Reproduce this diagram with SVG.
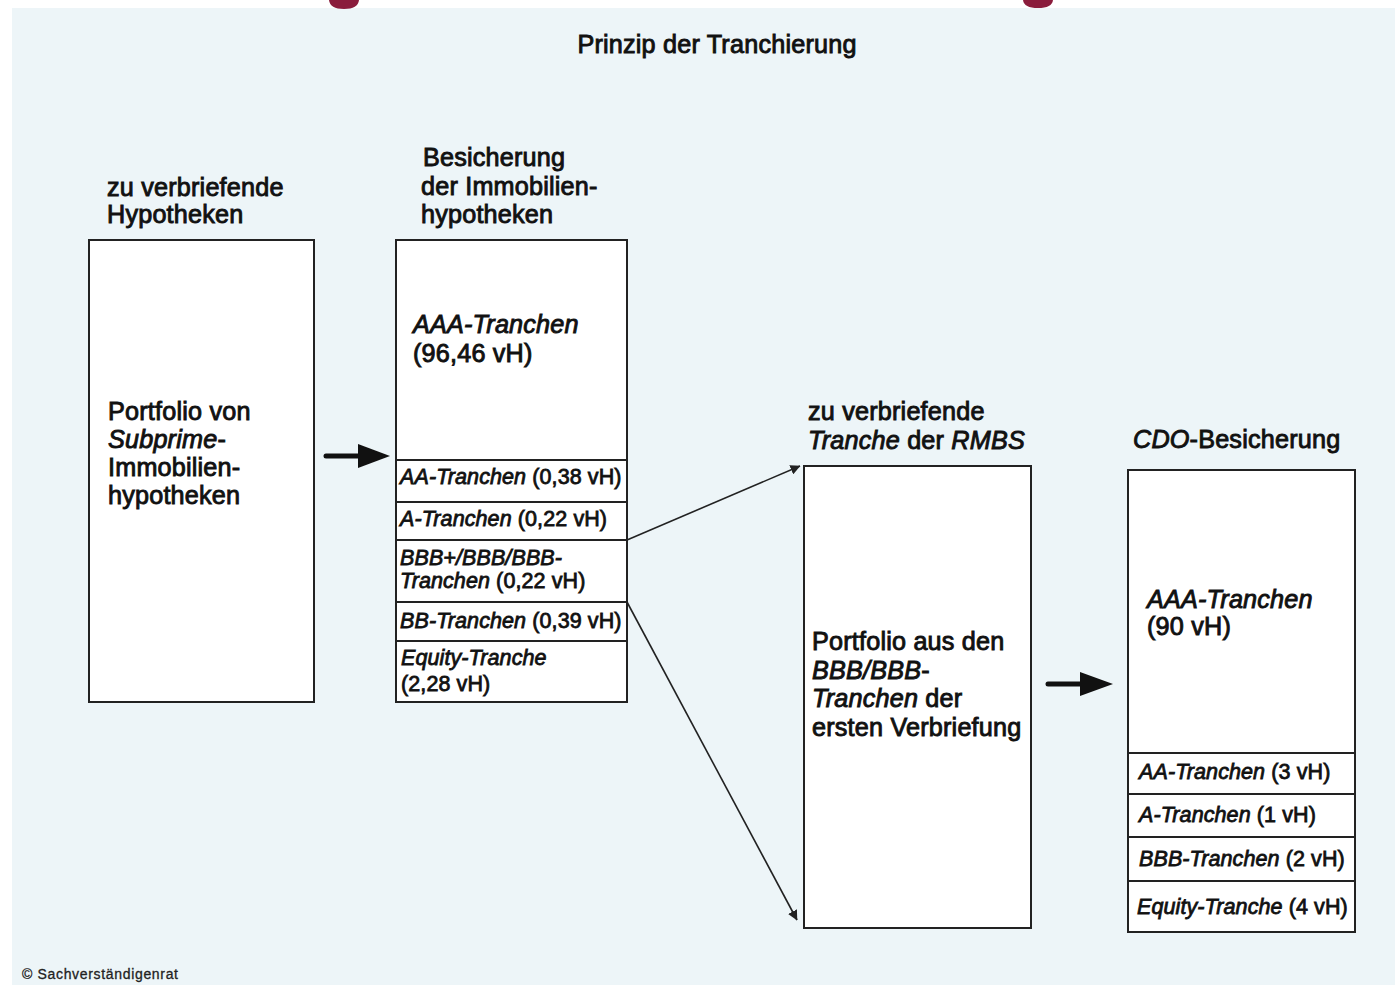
<svg xmlns="http://www.w3.org/2000/svg" width="1395" height="985" viewBox="0 0 1395 985">
<defs>
<style>
.t{font-family:"Liberation Sans",Arial,sans-serif;fill:#111;stroke:#111;stroke-width:0.9}
.h{font-size:25.2px;letter-spacing:0.2px}
.s{font-size:21.5px;stroke-width:0.8;letter-spacing:0.1px}
.i{font-style:italic}
.box{fill:#fff;stroke:#222;stroke-width:2}
.div{stroke:#222;stroke-width:2}
.con{stroke:#222;stroke-width:1.6;fill:none}
</style>
<marker id="ah2" viewBox="0 0 10 10" refX="9.5" refY="5" markerWidth="10" markerHeight="10" orient="auto" markerUnits="userSpaceOnUse">
<path d="M0,0 L10,5 L0,10 z" fill="#222"/>
</marker>
</defs>
<rect x="0" y="0" width="1395" height="985" fill="#fff"/>
<rect x="12" y="8" width="1383" height="977" fill="#EDF5F8"/>
<path d="M329,0 L359,0 Q358,9 344,9 Q330,9 329,0 z" fill="#8A1C3C"/>
<path d="M1023,0 L1053,0 Q1052,8 1038,8 Q1024,8 1023,0 z" fill="#8A1C3C"/>

<text class="t h" x="717" y="53" text-anchor="middle">Prinzip der Tranchierung</text>

<g id="node-hypotheken">
<text class="t h" x="107" y="196">zu verbriefende</text>
<text class="t h" x="107" y="223">Hypotheken</text>
<rect class="box" x="89" y="240" width="225" height="462"/>
<text class="t h" x="108" y="420">Portfolio von</text>
<text class="t h i" x="108" y="448">Subprime<tspan font-style="normal">-</tspan></text>
<text class="t h" x="108" y="476">Immobilien-</text>
<text class="t h" x="108" y="504">hypotheken</text>
</g>

<g id="node-besicherung">
<text class="t h" x="423" y="166">Besicherung</text>
<text class="t h" x="421" y="195">der Immobilien-</text>
<text class="t h" x="421" y="223">hypotheken</text>
<rect class="box" x="396" y="240" width="231" height="462"/>
<line class="div" x1="396" y1="460" x2="627" y2="460"/>
<line class="div" x1="396" y1="502" x2="627" y2="502"/>
<line class="div" x1="396" y1="540" x2="627" y2="540"/>
<line class="div" x1="396" y1="602" x2="627" y2="602"/>
<line class="div" x1="396" y1="641" x2="627" y2="641"/>
<text class="t h i" x="413" y="333">AAA-Tranchen</text>
<text class="t h" x="413" y="362">(96,46 vH)</text>
<text class="t s" x="400" y="484"><tspan font-style="italic">AA-Tranchen</tspan> (0,38 vH)</text>
<text class="t s" x="400" y="526"><tspan font-style="italic">A-Tranchen</tspan> (0,22 vH)</text>
<text class="t s i" x="400" y="565">BBB+/BBB/BBB-</text>
<text class="t s" x="400" y="588"><tspan font-style="italic">Tranchen</tspan> (0,22 vH)</text>
<text class="t s" x="400" y="628"><tspan font-style="italic">BB-Tranchen</tspan> (0,39 vH)</text>
<text class="t s i" x="401" y="665">Equity-Tranche</text>
<text class="t s" x="401" y="691">(2,28 vH)</text>
</g>

<g id="node-rmbs">
<text class="t h" x="808" y="420">zu verbriefende</text>
<text class="t h" x="808" y="449"><tspan font-style="italic">Tranche</tspan> der <tspan font-style="italic">RMBS</tspan></text>
<rect class="box" x="804" y="466" width="227" height="462"/>
<text class="t h" x="812" y="650">Portfolio aus den</text>
<text class="t h i" x="812" y="679">BBB/BBB<tspan font-style="normal">-</tspan></text>
<text class="t h" x="812" y="707"><tspan font-style="italic">Tranchen</tspan> der</text>
<text class="t h" x="812" y="736">ersten Verbriefung</text>
</g>

<g id="node-cdo">
<text class="t h" x="1133" y="448"><tspan font-style="italic">CDO</tspan>-Besicherung</text>
<rect class="box" x="1128" y="470" width="227" height="462"/>
<line class="div" x1="1128" y1="753" x2="1355" y2="753"/>
<line class="div" x1="1128" y1="794" x2="1355" y2="794"/>
<line class="div" x1="1128" y1="837" x2="1355" y2="837"/>
<line class="div" x1="1128" y1="881" x2="1355" y2="881"/>
<text class="t h i" x="1147" y="608">AAA-Tranchen</text>
<text class="t h" x="1147" y="635">(90 vH)</text>
<text class="t s" x="1139" y="779"><tspan font-style="italic">AA-Tranchen</tspan> (3 vH)</text>
<text class="t s" x="1139" y="822"><tspan font-style="italic">A-Tranchen</tspan> (1 vH)</text>
<text class="t s" x="1139" y="866"><tspan font-style="italic">BBB-Tranchen</tspan> (2 vH)</text>
<text class="t s" x="1137" y="914"><tspan font-style="italic">Equity-Tranche</tspan> (4 vH)</text>
</g>

<g id="connectors">
<line x1="326" y1="456" x2="362" y2="456" stroke="#111" stroke-width="5" stroke-linecap="round"/>
<path d="M358,444 L390,456 L358,468 z" fill="#111"/>
<line x1="1048" y1="684" x2="1084" y2="684" stroke="#111" stroke-width="5" stroke-linecap="round"/>
<path d="M1080,672 L1113,684 L1080,696 z" fill="#111"/>
<line class="con" x1="627" y1="540" x2="800" y2="466" marker-end="url(#ah2)"/>
<line class="con" x1="627" y1="602" x2="797" y2="920" marker-end="url(#ah2)"/>
</g>

<text x="22" y="979" font-family="Liberation Sans,Arial,sans-serif" font-size="14" fill="#222" stroke="#222" stroke-width="0.3" textLength="156">© Sachverständigenrat</text>
</svg>
